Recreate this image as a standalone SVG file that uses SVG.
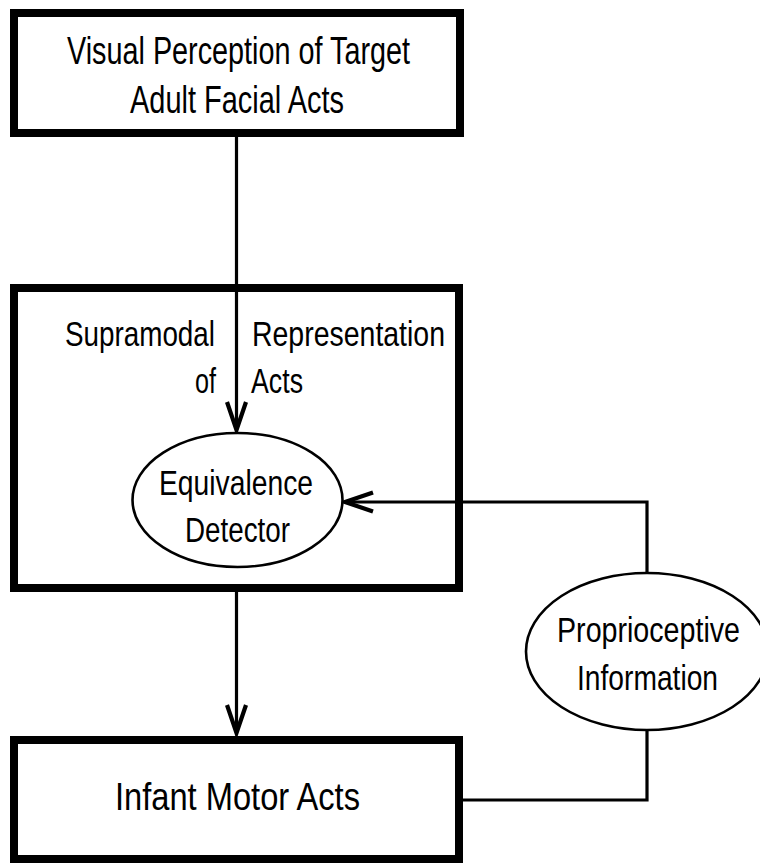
<svg xmlns="http://www.w3.org/2000/svg" width="760" height="863" viewBox="0 0 760 863">
<style>
  .box { fill: none; stroke: #000; stroke-width: 8; }
  .oval { fill: #fff; stroke: #000; stroke-width: 2.6; }
  .conn { fill: none; stroke: #000; stroke-width: 3.2; }
  text { font-family: "Liberation Sans", Arial, Helvetica, sans-serif; fill: #000; text-anchor: middle; }
  .t38 { font-size: 38px; }
  .t35 { font-size: 35px; }
  .l { text-anchor: start; }
</style>
<defs>
  <marker id="arrow" markerUnits="userSpaceOnUse" viewBox="-32 -14 36 28" refX="0" refY="0" markerWidth="36" markerHeight="28" orient="auto" overflow="visible">
    <path d="M-28,-9.5 L0,0 L-28,9.5" fill="none" stroke="#000" stroke-width="4.2" stroke-linejoin="miter" stroke-miterlimit="10"/>
  </marker>
</defs>
<rect width="760" height="863" fill="#fff"/>

<g id="connectors">
  <path class="conn" d="M236.5,137 V430" marker-end="url(#arrow)"/>
  <path class="conn" d="M236.5,592 V733" marker-end="url(#arrow)"/>
  <path class="conn" d="M647,573 V502 H345" marker-end="url(#arrow)"/>
  <path class="conn" d="M647,730 V800 H463"/>
</g>

<g id="visual-perception">
  <rect class="box" x="14" y="13" width="446" height="120"/>
  <text class="t38" x="238.5" y="64" textLength="343" lengthAdjust="spacingAndGlyphs">Visual Perception of Target</text>
  <text class="t38" x="237" y="113" textLength="214" lengthAdjust="spacingAndGlyphs">Adult Facial Acts</text>
</g>

<g id="supramodal">
  <rect class="box" x="14" y="288" width="445" height="300"/>
  <text class="t35 l" x="65" y="346" textLength="150" lengthAdjust="spacingAndGlyphs">Supramodal</text>
  <text class="t35 l" x="252" y="346" textLength="193" lengthAdjust="spacingAndGlyphs">Representation</text>
  <text class="t35 l" x="195" y="393" textLength="21" lengthAdjust="spacingAndGlyphs">of</text>
  <text class="t35 l" x="251" y="393" textLength="52" lengthAdjust="spacingAndGlyphs">Acts</text>
</g>

<g id="equivalence-detector">
  <ellipse class="oval" cx="237.5" cy="500" rx="105" ry="67"/>
  <text class="t35" x="236" y="495" textLength="154" lengthAdjust="spacingAndGlyphs">Equivalence</text>
  <text class="t35" x="237.5" y="542" textLength="105" lengthAdjust="spacingAndGlyphs">Detector</text>
</g>

<g id="proprioceptive">
  <ellipse class="oval" cx="647" cy="651.5" rx="121" ry="78.5"/>
  <text class="t35" x="648.5" y="642" textLength="183" lengthAdjust="spacingAndGlyphs">Proprioceptive</text>
  <text class="t35" x="647.5" y="690" textLength="141" lengthAdjust="spacingAndGlyphs">Information</text>
</g>

<g id="infant-motor">
  <rect class="box" x="14" y="740" width="445" height="119"/>
  <text class="t38" x="237.5" y="810" textLength="245" lengthAdjust="spacingAndGlyphs">Infant Motor Acts</text>
</g>
</svg>
